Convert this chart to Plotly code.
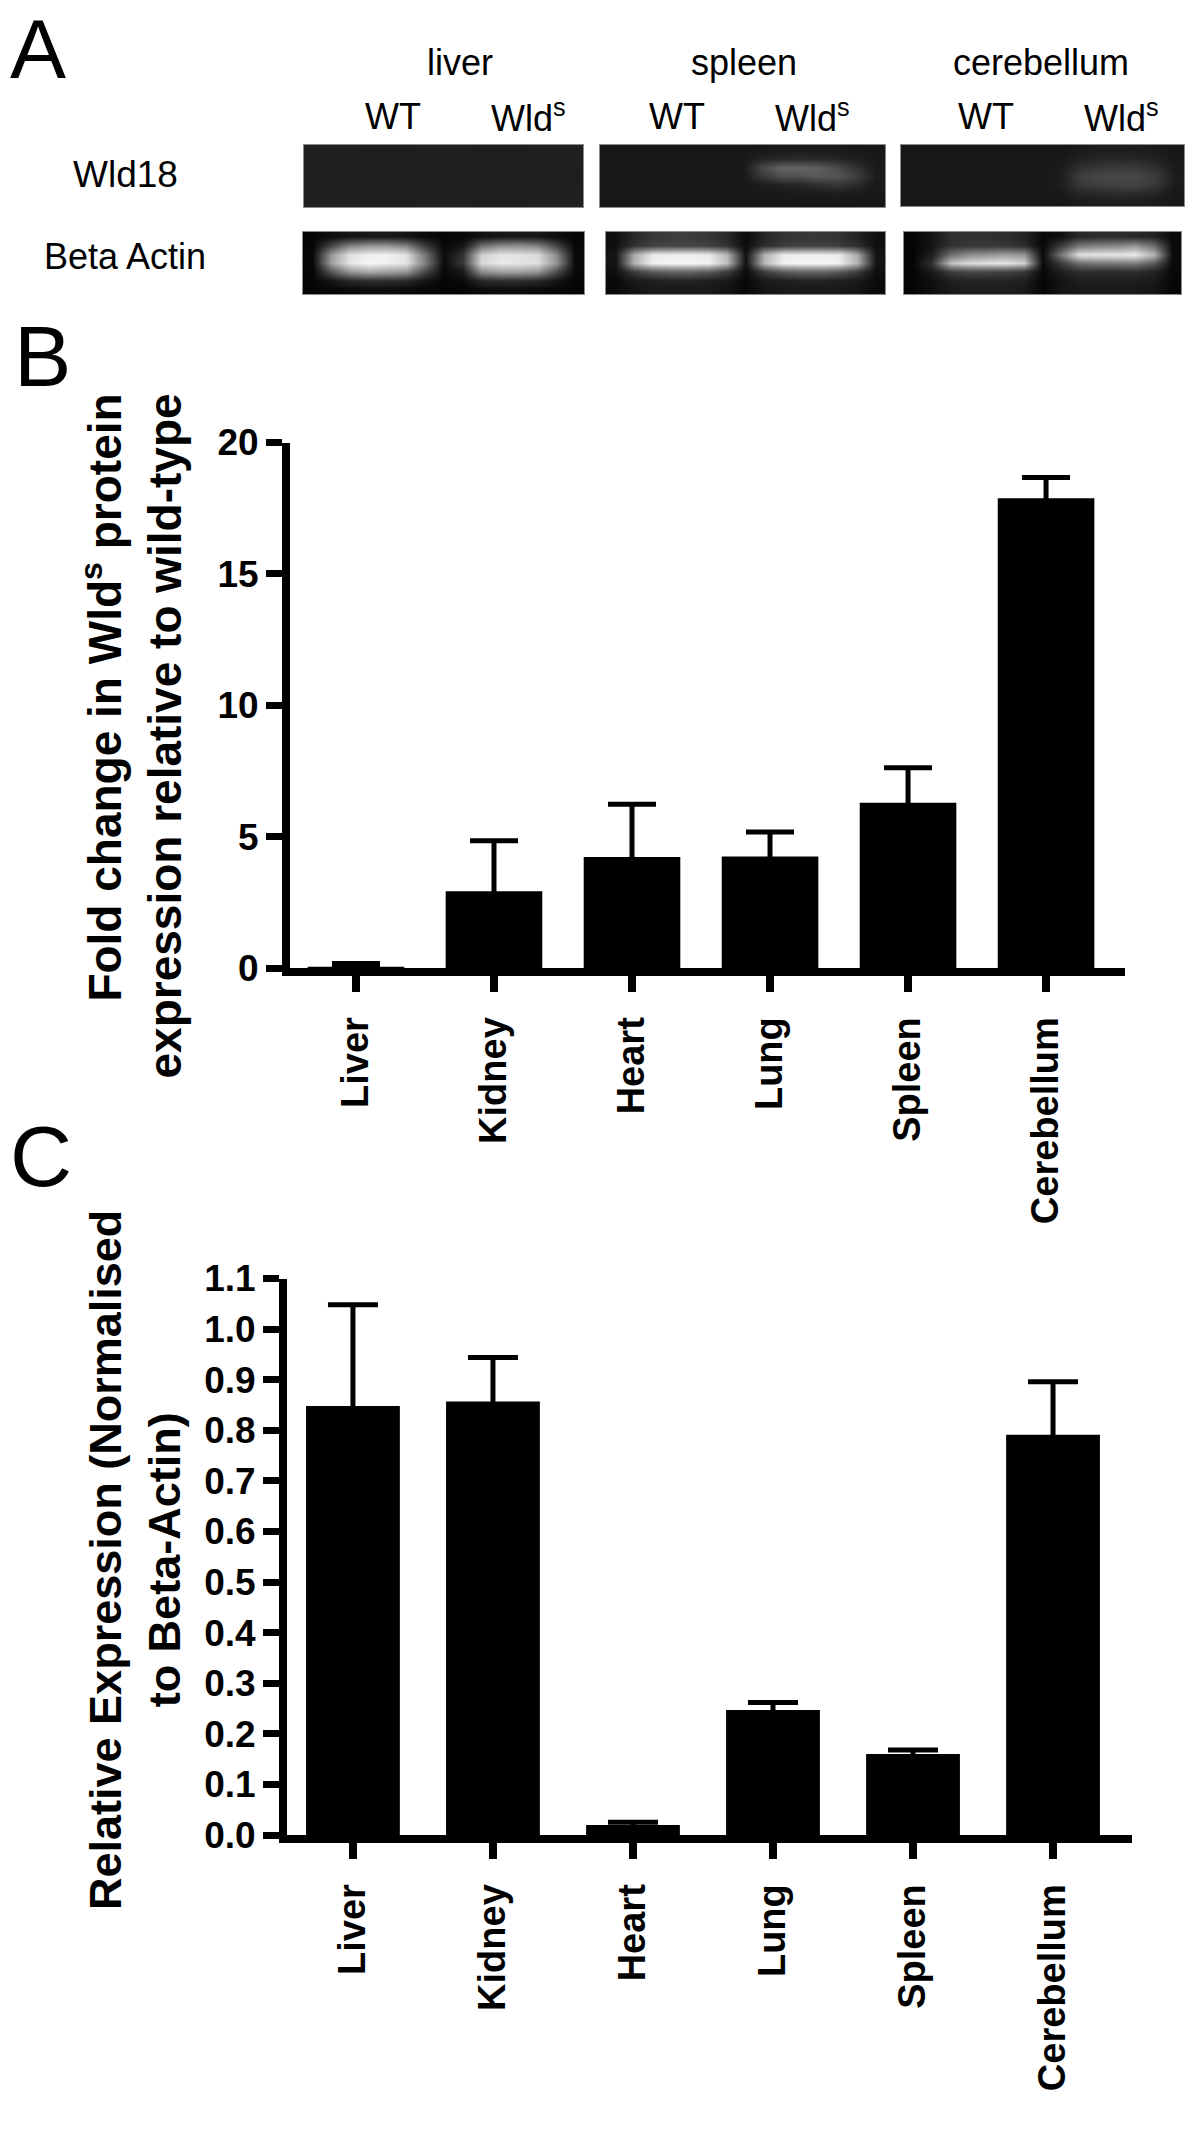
import plotly.graph_objects as go

# ---------------- data ----------------
categories = ["Liver", "Kidney", "Heart", "Lung", "Spleen", "Cerebellum"]

# Panel B: fold change in Wld^s protein expression relative to wild-type
b_values = [0.05, 2.92, 4.22, 4.24, 6.29, 17.88]
b_errors = [0.12, 1.92, 2.01, 0.94, 1.33, 0.79]
b_ticks = [0, 5, 10, 15, 20]

# Panel C: relative expression normalised to beta-actin
c_values = [0.848, 0.857, 0.020, 0.247, 0.160, 0.791]
c_errors = [0.200, 0.087, 0.005, 0.015, 0.008, 0.105]
c_ticks = [0.0, 0.1, 0.2, 0.3, 0.4, 0.5, 0.6, 0.7, 0.8, 0.9, 1.0, 1.1]

# Panel A: gel images (grey levels 0-255)
tissues_a = ["liver", "spleen", "cerebellum"]
lanes_a = ["WT", "Wld<sup>s</sup>"]

gel_liver_wld18 = [
    [31, 30, 31, 30, 31],
    [30, 31, 32, 31, 30],
    [31, 30, 31, 30, 31],
]
gel_spleen_wld18 = [
    [23, 23, 23, 23, 23, 23, 23, 23, 24, 26, 27, 27, 26, 24, 23],
    [23, 23, 23, 23, 23, 23, 23, 23, 34, 40, 42, 40, 36, 30, 24],
    [23, 23, 23, 23, 23, 23, 23, 24, 70, 98, 100, 94, 75, 50, 26],
    [23, 23, 23, 23, 23, 23, 23, 24, 55, 78, 82, 88, 85, 62, 28],
    [23, 23, 23, 23, 23, 23, 23, 23, 28, 34, 38, 48, 55, 42, 25],
    [23, 23, 23, 23, 23, 23, 23, 23, 24, 25, 26, 27, 28, 26, 23],
    [23, 23, 23, 23, 23, 23, 23, 23, 23, 23, 23, 23, 23, 23, 23],
]
gel_cereb_wld18 = [
    [23, 23, 23, 23, 23, 23, 23, 23, 23, 27, 29, 30, 29, 27, 23],
    [23, 23, 23, 23, 23, 23, 23, 23, 25, 33, 37, 38, 37, 32, 24],
    [23, 23, 23, 23, 23, 23, 23, 23, 27, 47, 54, 56, 55, 45, 26],
    [23, 23, 23, 23, 23, 23, 23, 23, 30, 62, 70, 72, 70, 58, 28],
    [23, 23, 23, 23, 23, 23, 23, 23, 29, 56, 63, 66, 66, 55, 27],
    [23, 23, 23, 23, 23, 23, 23, 23, 25, 38, 42, 44, 43, 36, 24],
    [23, 23, 23, 23, 23, 23, 23, 23, 23, 27, 29, 29, 29, 26, 23],
]
gel_liver_actin = [
    [5, 12, 20, 25, 25, 20, 10, 5, 8, 16, 22, 25, 22, 12, 5],
    [5, 70, 130, 150, 150, 130, 60, 8, 20, 110, 140, 145, 130, 70, 8],
    [8, 150, 225, 238, 242, 225, 120, 10, 50, 205, 228, 225, 218, 140, 10],
    [8, 160, 228, 246, 238, 228, 130, 10, 55, 215, 232, 228, 222, 150, 10],
    [5, 85, 150, 170, 160, 150, 75, 8, 25, 140, 160, 160, 150, 80, 8],
    [5, 20, 40, 45, 45, 40, 20, 5, 10, 38, 45, 45, 40, 20, 5],
    [5, 6, 10, 12, 12, 10, 6, 5, 5, 10, 12, 12, 10, 6, 5],
]
gel_spleen_actin = [
    [15, 40, 55, 60, 60, 55, 40, 10, 35, 50, 55, 55, 50, 35, 15],
    [15, 50, 65, 70, 70, 65, 50, 12, 45, 60, 65, 65, 60, 45, 15],
    [20, 170, 235, 240, 240, 235, 180, 15, 175, 235, 240, 240, 235, 170, 20],
    [20, 180, 240, 245, 245, 240, 190, 15, 185, 240, 245, 245, 240, 180, 20],
    [15, 60, 90, 100, 100, 90, 60, 10, 60, 90, 100, 100, 90, 60, 15],
    [10, 25, 30, 35, 35, 30, 25, 8, 25, 30, 35, 35, 30, 25, 10],
    [10, 20, 25, 25, 25, 25, 20, 8, 20, 25, 25, 25, 25, 20, 10],
]
gel_cereb_actin = [
    [5, 20, 45, 50, 50, 45, 35, 8, 15, 40, 45, 45, 40, 35, 10],
    [5, 20, 50, 55, 55, 55, 45, 8, 60, 120, 130, 135, 150, 110, 10],
    [5, 30, 110, 140, 150, 160, 150, 10, 120, 225, 230, 230, 235, 180, 12],
    [5, 50, 190, 220, 225, 230, 210, 10, 60, 110, 120, 120, 125, 90, 10],
    [5, 25, 60, 70, 70, 65, 55, 8, 30, 45, 45, 45, 45, 35, 8],
    [5, 15, 30, 35, 35, 35, 30, 6, 20, 30, 30, 30, 30, 25, 6],
    [5, 15, 25, 30, 30, 30, 25, 6, 20, 25, 25, 25, 25, 20, 6],
]

# ---------------- layout helpers (pixel -> paper) ----------------
W, H = 1200, 2154


def px(p):
    return p / W


def py(p):
    return 1 - p / H


SANS = "Liberation Sans, Arial, Helvetica, sans-serif"

fig = go.Figure()

# ---------------- Panel B ----------------
fig.add_trace(go.Bar(
    x=categories, y=b_values, width=0.70,
    marker=dict(color="black", line=dict(width=0)),
    error_y=dict(type="data", symmetric=False, array=b_errors,
                 arrayminus=b_values, color="black",
                 thickness=5, width=24),
    xaxis="x", yaxis="y", hoverinfo="skip", showlegend=False,
))

# ---------------- Panel C ----------------
fig.add_trace(go.Bar(
    x=categories, y=c_values, width=0.67,
    marker=dict(color="black", line=dict(width=0)),
    error_y=dict(type="data", symmetric=False, array=c_errors,
                 arrayminus=c_values, color="black",
                 thickness=5, width=25),
    xaxis="x2", yaxis="y2", hoverinfo="skip", showlegend=False,
))

# ---------------- Panel A gels ----------------
gels = [
    (gel_liver_wld18, (304, 583), (145, 207)),
    (gel_spleen_wld18, (600, 885), (145, 207)),
    (gel_cereb_wld18, (901, 1184), (145, 206)),
    (gel_liver_actin, (303, 584), (232, 294)),
    (gel_spleen_actin, (606, 885), (232, 294)),
    (gel_cereb_actin, (904, 1181), (232, 294)),
]
layout_axes = {}
for i, (z, (x0, x1), (y0, y1)) in enumerate(gels):
    n = i + 3
    nrows, ncols = len(z), len(z[0])
    fig.add_trace(go.Heatmap(
        z=z, zmin=0, zmax=255, zsmooth="best", showscale=False,
        colorscale=[[0, "black"], [1, "white"]],
        xaxis=f"x{n}", yaxis=f"y{n}", hoverinfo="skip",
    ))
    common = dict(showgrid=False, zeroline=False, showticklabels=False,
                  ticks="", showline=True, mirror=True, automargin=False,
                  linecolor="#8a8a8a", linewidth=1, fixedrange=True)
    layout_axes[f"xaxis{n}"] = dict(domain=[px(x0), px(x1)],
                                    range=[-0.5, ncols - 0.5],
                                    anchor=f"y{n}", **common)
    layout_axes[f"yaxis{n}"] = dict(domain=[py(y1), py(y0)],
                                    range=[nrows - 0.5, -0.5],
                                    anchor=f"x{n}", **common)

axis_line = dict(showline=True, linecolor="black", linewidth=8,
                 showgrid=False, zeroline=False, ticks="outside",
                 tickcolor="black", ticklen=16, fixedrange=True,
                 automargin=False)
tick_font = dict(family=SANS, size=37, color="black", weight="bold")
cat_font = dict(family=SANS, size=38, color="black", weight="bold")

fig.update_layout(
    width=W, height=H,
    margin=dict(l=0, r=0, t=0, b=0, pad=0, autoexpand=False),
    paper_bgcolor="white", plot_bgcolor="white",
    showlegend=False,
    xaxis=dict(domain=[px(290), px(1125)], range=[-0.478, 5.572],
               anchor="y", type="category", categoryarray=categories,
               tickangle=-90, tickwidth=8, tickfont=cat_font,
               ticklabelstandoff=10, **axis_line),
    yaxis=dict(domain=[py(968), py(442.5)], range=[0, 20],
               anchor="x", tickmode="array", tickvals=b_ticks,
               tickwidth=7, tickfont=tick_font, **axis_line),
    xaxis2=dict(domain=[px(287), px(1132)], range=[-0.471, 5.564],
                anchor="y2", type="category", categoryarray=categories,
                tickangle=-90, tickwidth=8, tickfont=cat_font,
                ticklabelstandoff=10, **axis_line),
    yaxis2=dict(domain=[py(1835), py(1278.5)], range=[0, 1.1],
                anchor="x2", tickmode="array", tickvals=c_ticks,
                tickformat=".1f", tickwidth=7, tickfont=tick_font,
                **axis_line),
    **layout_axes,
)


def ann(text, x, y, size, family=SANS, bold=False, xanchor="center",
        yanchor="middle", angle=0, align="center"):
    fig.add_annotation(
        text=text, x=px(x), y=py(y), xref="paper", yref="paper",
        showarrow=False, xanchor=xanchor, yanchor=yanchor,
        textangle=angle, align=align,
        font=dict(family=family, size=size, color="black",
                  weight="bold" if bold else "normal"),
    )


# panel letters
ann("A", 8, 0, 84, xanchor="left", yanchor="top")
ann("B", 12, 306, 86, xanchor="left", yanchor="top")
ann("C", 8, 1106, 86, xanchor="left", yanchor="top")

# panel A labels
for name, cx in zip(tissues_a, [460, 744, 1041]):
    ann(name, cx, 62, 36)
for lab, cx in zip(lanes_a * 3, [393, 528, 677, 812, 986, 1121]):
    ann(lab, cx, 116, 36)
ann("Wld18", 125, 174, 37)
ann("Beta Actin", 125, 256, 36)

# axis titles
ann("Fold change in Wld<sup>s</sup> protein<br>expression relative to wild-type",
    131, 392, 46, bold=True, yanchor="top", angle=-90, align="right")
ann("Relative Expression (Normalised<br>to Beta-Actin)",
    135, 1560, 45, bold=True, angle=-90)

fig.write_html(
    "out.html",
    config={"displayModeBar": False, "staticPlot": True},
    post_script="document.body.style.margin='0px';",
)
